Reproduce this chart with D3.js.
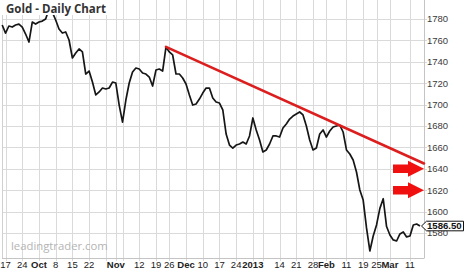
<!DOCTYPE html>
<html>
<head>
<meta charset="utf-8">
<script src="https://cdn.jsdelivr.net/npm/d3@7"></script>
<style>
  body { margin: 0; background: #fff; }
  svg { display: block; }
</style>
</head>
<body>
<div id="myDiv"><svg width="466" height="272"></svg></div>
<script>
// daily closes, one per trading day starting Sep 14 2012
const closes = [
  1774.4, 1766.9, 1773.5, 1772.5, 1774.4, 1775.3, 1772.5, 1766.0, 1758.5, 1777.2,
  1775.3, 1777.2, 1778.1, 1780.0, 1789.3, 1786.5, 1779.1, 1770.7, 1766.9, 1767.9,
  1760.4, 1743.6, 1748.2, 1752.0, 1749.2, 1728.6, 1731.4, 1721.1, 1709.0, 1711.8,
  1715.5, 1714.6, 1715.5, 1721.1, 1720.2, 1699.6, 1683.7, 1704.3, 1720.2, 1730.5,
  1734.2, 1733.3, 1729.5, 1728.6, 1725.8, 1717.4, 1732.3, 1733.3, 1731.4, 1753.8,
  1749.2, 1746.4, 1728.6, 1728.6, 1724.9, 1719.3, 1709.0, 1699.6, 1700.6, 1705.2,
  1710.8, 1715.5, 1715.5, 1706.2, 1702.4, 1701.5, 1695.0, 1672.5, 1662.2, 1659.4,
  1662.2, 1663.2, 1665.0, 1663.2, 1670.7, 1687.5, 1676.3, 1666.9, 1655.7, 1657.6,
  1663.2, 1670.7, 1670.7, 1669.7, 1678.1, 1681.9, 1686.5, 1689.3, 1691.2, 1693.1,
  1690.3, 1680.0, 1666.9, 1657.6, 1659.4, 1672.5, 1676.3, 1669.7, 1675.3, 1679.1,
  1680.0, 1680.9, 1674.4, 1657.6, 1653.8, 1648.2, 1637.0, 1620.2, 1610.8, 1584.7,
  1563.2, 1577.2, 1587.5, 1603.0, 1612.0, 1586.0, 1578.1, 1573.5, 1572.5, 1579.1,
  1580.9, 1576.3, 1577.2, 1587.5, 1588.4, 1586.5
];
const lastLabel = "1586.50";

// x axis: trading day index of each label
const tickDays   = [1, 6, 11, 16, 21, 26, 34, 41, 46, 50, 55, 60, 65, 70, 75, 83, 88, 93, 97, 103, 108, 112, 116, 122];
const tickLabels = ["17", "24", "Oct", "8", "15", "22", "Nov", "12", "19", "26", "Dec", "10", "17", "24", "2013",
                    "14", "21", "28", "Feb", "11", "19", "25", "Mar", "11"];
const monthLabels = ["Oct", "Nov", "Dec", "2013", "Feb", "Mar"];
const gridDays = [1, 6, 11, 16, 21, 26, 31, 34, 36, 41, 46, 50, 55, 60, 65, 70, 75, 78, 83, 88, 93, 97, 103, 108, 112, 116, 122];

const yTicks = [1580, 1600, 1620, 1640, 1660, 1680, 1700, 1720, 1740, 1760, 1780];

// resistance line and the two arrow levels
const trendDays = [49, 126.2];
const trendValues = [1754, 1645];
const arrowLevels = [1640, 1620];

const svg = d3.select("#myDiv").select("svg");

const x = d3.scaleLinear().domain([0, 126.2]).range([2.2, 424]);
const y = d3.scaleLinear().domain([1556.6, 1797.8]).range([258, 0]);

const grid = svg.append("g").attr("stroke", "#dadada").attr("stroke-width", 1);

grid.selectAll(".hg")
    .data(yTicks)
    .enter()
    .append("line")
    .attr("x1", 2)
    .attr("x2", 427)
    .attr("y1", d => Math.round(y(d)) + 0.5)
    .attr("y2", d => Math.round(y(d)) + 0.5);

grid.selectAll(".vg")
    .data(gridDays)
    .enter()
    .append("line")
    .attr("x1", d => Math.round(x(d)) + 0.5)
    .attr("x2", d => Math.round(x(d)) + 0.5)
    .attr("y1", 0)
    .attr("y2", 261);

// frame
svg.append("line").attr("x1", 424.5).attr("x2", 424.5).attr("y1", 0).attr("y2", 258)
    .attr("stroke", "#c4c4c4");
svg.append("line").attr("x1", 2).attr("x2", 424.5).attr("y1", 258.5).attr("y2", 258.5)
    .attr("stroke", "#c4c4c4");
svg.append("line").attr("x1", 2.5).attr("x2", 2.5).attr("y1", 0).attr("y2", 258)
    .attr("stroke", "#d0d0d0");

// watermark
svg.append("text")
    .attr("x", 11)
    .attr("y", 249.5)
    .attr("font-family", "Open Sans")
    .attr("font-size", 11.3)
    .attr("fill", "#b4b4b4")
    .text("leadingtrader.com");

// price line
const line = d3.line()
    .x((d, i) => x(i))
    .y(d => y(d));

svg.append("path")
    .datum(closes)
    .attr("d", line)
    .attr("fill", "none")
    .attr("stroke", "#161616")
    .attr("stroke-width", 1.7)
    .attr("stroke-linejoin", "round");

// trend line
svg.append("line")
    .attr("x1", x(trendDays[0]))
    .attr("y1", y(trendValues[0]))
    .attr("x2", x(trendDays[1]))
    .attr("y2", y(trendValues[1]))
    .attr("stroke", "#dc1e1e")
    .attr("stroke-width", 2.6)
    .attr("stroke-linecap", "round");

// arrows pointing at the levels
const tipX = x(x.domain()[1]);
svg.selectAll(".arrow")
    .data(arrowLevels)
    .enter()
    .append("path")
    .attr("d", function(d) {
        let cy = y(d);
        return "M" + (tipX - 31) + "," + (cy - 4.3) +
            "L" + (tipX - 16) + "," + (cy - 4.3) +
            "L" + (tipX - 16) + "," + (cy - 8) +
            "L" + tipX + "," + cy +
            "L" + (tipX - 16) + "," + (cy + 8) +
            "L" + (tipX - 16) + "," + (cy + 4.3) +
            "L" + (tipX - 31) + "," + (cy + 4.3) + "Z";
    })
    .attr("fill", "#f01010");

// y labels
svg.selectAll(".ylab")
    .data(yTicks)
    .enter()
    .append("text")
    .attr("x", 427)
    .attr("y", d => y(d))
    .attr("dy", "0.35em")
    .attr("font-family", "Liberation Sans, Arial")
    .attr("font-size", 9.5)
    .attr("fill", "#3a3a3a")
    .text(d => d);

// x labels
svg.selectAll(".xlab")
    .data(tickDays)
    .enter()
    .append("text")
    .attr("x", d => x(d))
    .attr("y", 268)
    .attr("text-anchor", "middle")
    .attr("font-family", "Liberation Sans, Arial")
    .attr("font-size", 9.5)
    .attr("font-weight", (d, i) => monthLabels.includes(tickLabels[i]) ? "bold" : "normal")
    .attr("fill", "#222")
    .text((d, i) => tickLabels[i]);

// last price tag
const lastY = y(closes[closes.length - 1]);
svg.append("path")
    .attr("d", "M421.5," + lastY + "L426.5," + (lastY - 4.8) + "L463.5," + (lastY - 4.8) +
        "L463.5," + (lastY + 4.8) + "L426.5," + (lastY + 4.8) + "Z")
    .attr("fill", "#fff")
    .attr("stroke", "#111")
    .attr("stroke-width", 1);
svg.append("text")
    .attr("x", 427)
    .attr("y", lastY)
    .attr("dy", "0.36em")
    .attr("font-family", "Liberation Sans, Arial")
    .attr("font-size", 9.6)
    .attr("font-weight", "bold")
    .attr("fill", "#111")
    .text(lastLabel);

// title on a white patch
svg.append("rect")
    .attr("x", 0)
    .attr("y", 0)
    .attr("width", 108)
    .attr("height", 15)
    .attr("fill", "#fff");
svg.append("text")
    .attr("x", 6)
    .attr("y", 12.5)
    .attr("font-family", "Open Sans")
    .attr("font-size", 11.5)
    .attr("font-weight", "bold")
    .attr("fill", "#333")
    .text("Gold - Daily Chart");
</script>
</body>
</html>
